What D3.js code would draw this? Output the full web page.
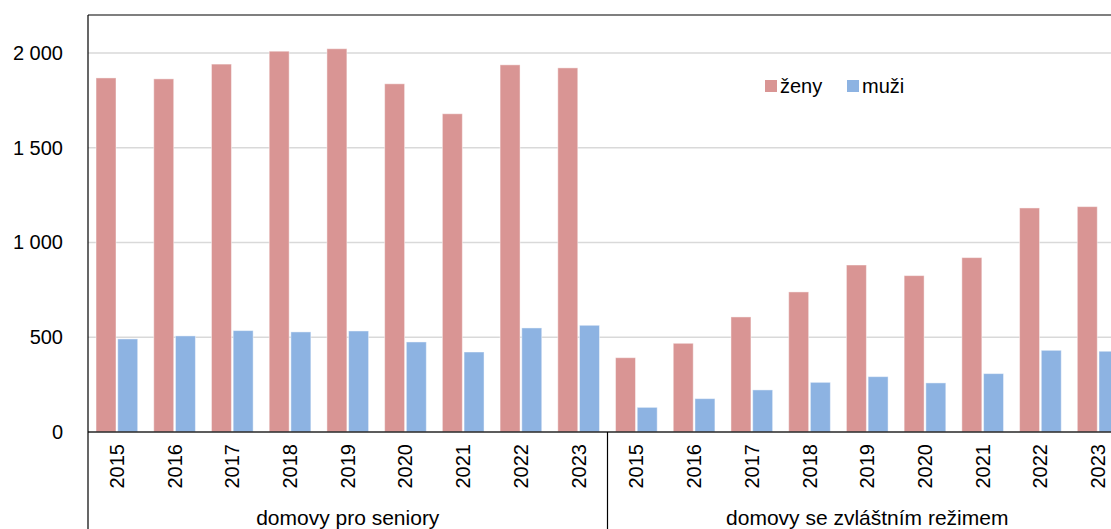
<!DOCTYPE html>
<html>
<head>
<meta charset="utf-8">
<script src="https://cdn.jsdelivr.net/npm/d3@7"></script>
<style>
  body { margin: 0; background: #fff; }
  svg { display: block; font-family: "Liberation Sans", Arial, sans-serif; }
</style>
</head>
<body>
<div id="chart"></div>
<script>
const width = 1111;
const height = 529;
const margin = { top: 15, left: 88, right: -16, bottom: 97 };

// data
const groups = ['domovy pro seniory', 'domovy se zvláštním režimem'];
const years = ['2015', '2016', '2017', '2018', '2019', '2020', '2021', '2022', '2023'];
const series = ['ženy', 'muži'];
const zenySeniory = [1868, 1863, 1941, 2009, 2022, 1837, 1679, 1937, 1921];
const muziSeniory = [491, 507, 535, 528, 533, 475, 422, 549, 563];
const zenyRezim = [392, 468, 607, 739, 881, 825, 920, 1182, 1189];
const muziRezim = [130, 176, 222, 262, 292, 259, 308, 431, 426];
const yTicks = [0, 500, 1000, 1500, 2000];
const colors = ['#d99594', '#8db3e2'];

const rows = [];
years.forEach((yr, i) => rows.push({ key: 'a' + yr, year: yr, group: 0, values: [zenySeniory[i], muziSeniory[i]] }));
years.forEach((yr, i) => rows.push({ key: 'b' + yr, year: yr, group: 1, values: [zenyRezim[i], muziRezim[i]] }));

const svg = d3.select('#chart')
  .append('svg')
  .attr('width', width)
  .attr('height', height);

const plotBottom = height - margin.bottom;

const x = d3.scaleBand()
  .domain(rows.map(d => d.key))
  .range([margin.left, width - margin.right])
  .padding(0);

const xs = d3.scaleBand()
  .domain(series)
  .range([0, x.bandwidth()])
  .paddingInner(0.08)
  .paddingOuter(0.37);

const y = d3.scaleLinear()
  .domain([0, 2200])
  .range([plotBottom, margin.top]);

const fmt = d3.formatLocale({ decimal: ',', thousands: '\u00a0', grouping: [3], currency: ['', ' Kč'] }).format(',d');

// gridlines
svg.append('g')
  .selectAll('line')
  .data(yTicks.filter(t => t > 0))
  .join('line')
    .attr('x1', margin.left)
    .attr('x2', width)
    .attr('y1', d => y(d))
    .attr('y2', d => y(d))
    .attr('stroke', '#d9d9d9')
    .attr('stroke-width', 1.5);

// bars
const cat = svg.append('g')
  .selectAll('g')
  .data(rows)
  .join('g')
    .attr('transform', d => `translate(${x(d.key)},0)`);

cat.selectAll('rect')
  .data(d => d.values.map((v, i) => ({ s: series[i], v, i })))
  .join('rect')
    .attr('x', d => xs(d.s))
    .attr('y', d => y(d.v))
    .attr('width', xs.bandwidth())
    .attr('height', d => y(0) - y(d.v))
    .attr('fill', d => colors[d.i])
    .attr('stroke', 'rgba(255,255,255,0.45)')
    .attr('stroke-width', 1);

// y axis
const yAxis = svg.append('g')
  .attr('transform', `translate(${margin.left},0)`)
  .call(d3.axisLeft(y).tickValues(yTicks).tickFormat(fmt).tickSize(0).tickPadding(25));
yAxis.select('.domain').remove();
yAxis.selectAll('text')
  .attr('font-size', '20px')
  .attr('fill', '#000')
  .attr('font-family', '"Liberation Sans", Arial, sans-serif');

// x axis
const xAxis = svg.append('g')
  .attr('transform', `translate(0,${plotBottom})`)
  .call(d3.axisBottom(x).tickFormat(k => k.slice(1)).tickSize(0));
xAxis.select('.domain').remove();
xAxis.selectAll('text')
  .attr('font-size', '20px')
  .attr('fill', '#000')
  .attr('font-family', '"Liberation Sans", Arial, sans-serif')
  .attr('transform', 'rotate(-90)')
  .attr('text-anchor', 'end')
  .attr('dy', '0.35em')
  .attr('x', -12)
  .attr('y', 0);

svg.append('line')
  .attr('x1', margin.left).attr('x2', width)
  .attr('y1', plotBottom).attr('y2', plotBottom)
  .attr('stroke', '#262626').attr('stroke-width', 1.5);

// frame and group separators
svg.append('line')
  .attr('x1', margin.left).attr('x2', width)
  .attr('y1', margin.top).attr('y2', margin.top)
  .attr('stroke', '#000').attr('stroke-width', 1.2);
svg.append('line')
  .attr('x1', margin.left).attr('x2', margin.left)
  .attr('y1', margin.top).attr('y2', height)
  .attr('stroke', '#000').attr('stroke-width', 1.2);

const sepX = x('b' + years[0]);
svg.append('line')
  .attr('x1', sepX).attr('x2', sepX)
  .attr('y1', plotBottom).attr('y2', height)
  .attr('stroke', '#000').attr('stroke-width', 1.2);

// group labels
svg.append('g')
  .selectAll('text')
  .data(groups)
  .join('text')
    .attr('x', (d, i) => {
      const ks = rows.filter(r => r.group === i).map(r => r.key);
      return (x(ks[0]) + x(ks[ks.length - 1]) + x.bandwidth()) / 2;
    })
    .attr('y', 525)
    .attr('text-anchor', 'middle')
    .attr('font-size', '21px')
    .text(d => d);

// legend
const legend = svg.append('g')
  .selectAll('g')
  .data(series)
  .join('g')
    .attr('transform', (d, i) => `translate(${765 + i * 82},80)`);
legend.append('rect')
  .attr('width', 12)
  .attr('height', 12)
  .attr('fill', (d, i) => colors[i]);
legend.append('text')
  .attr('x', 15)
  .attr('y', 13)
  .attr('font-size', '20px')
  .text(d => d);
</script>
</body>
</html>
